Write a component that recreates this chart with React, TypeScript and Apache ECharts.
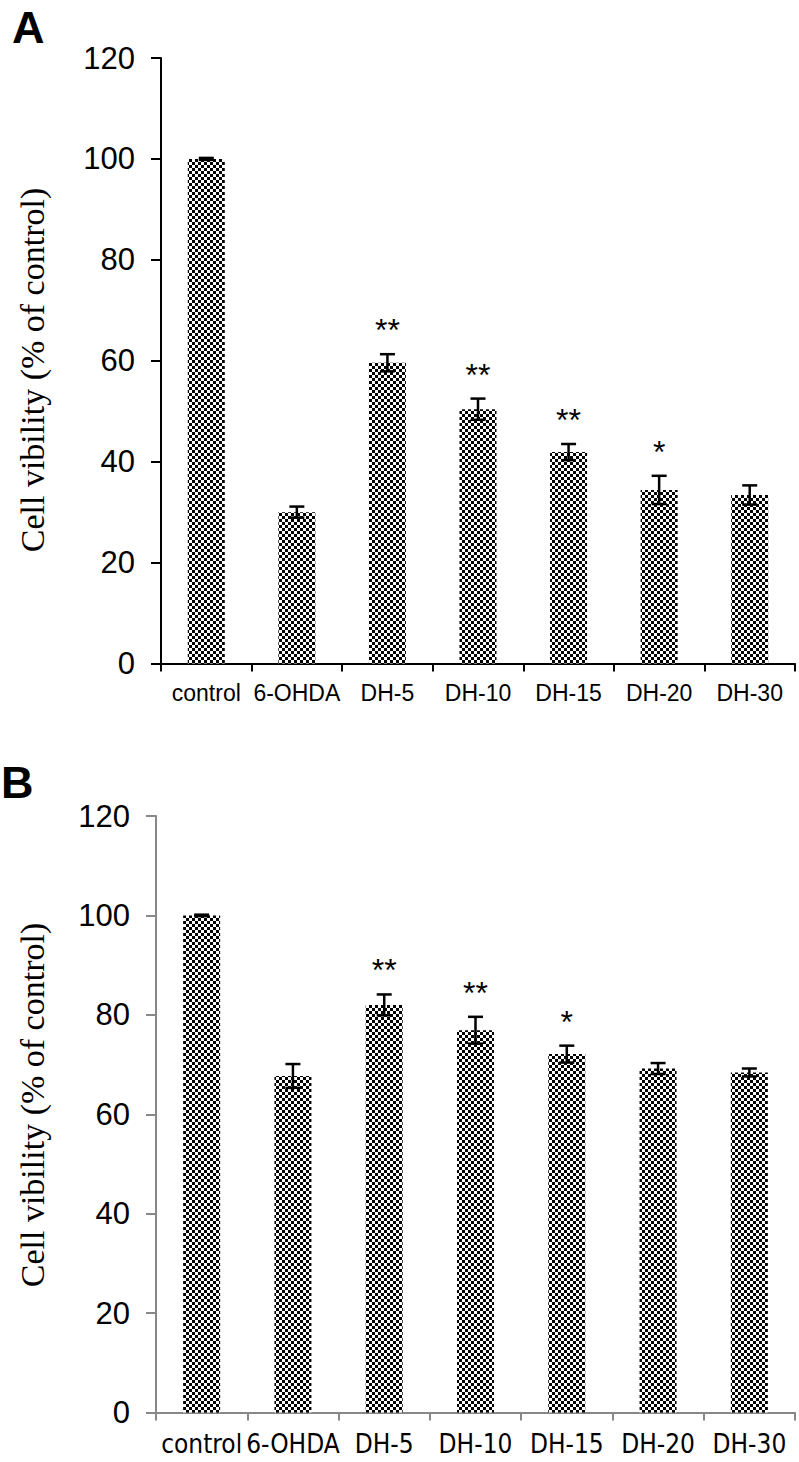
import React, { useEffect, useRef } from "react";
import * as echarts from "echarts";

const categories = ["control", "6-OHDA", "DH-5", "DH-10", "DH-15", "DH-20", "DH-30"];
const yTickMin = 0;
const yTickMax = 120;
const yTickStep = 20;

const valuesA = [100, 30.0, 59.6, 50.4, 41.9, 34.4, 33.4];
const errorsA = [0.2, 1.1, 1.7, 2.1, 1.6, 2.8, 1.9];
const starsA = ["", "", "**", "**", "**", "*", ""];

const valuesB = [100, 67.7, 82.0, 76.9, 72.1, 69.2, 68.4];
const errorsB = [0.15, 2.4, 2.1, 2.7, 1.7, 1.1, 0.8];
const starsB = ["", "", "**", "**", "*", "", ""];

const yTitle = "Cell vibility (% of control)";

function makePattern(): any {
  const c = document.createElement("canvas");
  c.width = 6;
  c.height = 6;
  const ctx = c.getContext("2d")!;
  ctx.fillStyle = "#ffffff";
  ctx.fillRect(0, 0, 6, 6);
  ctx.fillStyle = "#000000";
  ctx.fillRect(0, 0, 3, 3);
  ctx.fillRect(3, 3, 3, 3);
  return { image: c.toDataURL(), repeat: "repeat", imageWidth: 6, imageHeight: 6 };
}

function errSeries(idx: number, values: number[], errors: number[], stars: string[]) {
  return {
    type: "custom",
    xAxisIndex: idx,
    yAxisIndex: idx,
    z: 5,
    silent: true,
    data: values.map((v, i) => [i, v, errors[i]]),
    encode: { x: 0, y: 1 },
    renderItem: (params: any, api: any) => {
      const x = api.value(0);
      const v = api.value(1);
      const e = api.value(2);
      const top = api.coord([x, v + e]);
      const bot = api.coord([x, v - e]);
      const half = 7.5;
      const st = { stroke: "#000", lineWidth: 2.5 };
      const children: any[] = [
        { type: "line", shape: { x1: top[0], y1: top[1], x2: bot[0], y2: bot[1] }, style: st },
        { type: "line", shape: { x1: top[0] - half, y1: top[1], x2: top[0] + half, y2: top[1] }, style: st },
        { type: "line", shape: { x1: bot[0] - half, y1: bot[1], x2: bot[0] + half, y2: bot[1] }, style: st },
      ];
      const s = stars[params.dataIndex];
      if (s) {
        children.push({
          type: "text",
          x: top[0],
          y: top[1] - 24,
          style: {
            text: s,
            textAlign: "center",
            textVerticalAlign: "middle",
            font: '32px "Liberation Sans", Arial, sans-serif',
            fill: "#000",
          },
        });
      }
      return { type: "group", children };
    },
  };
}

export default function App() {
  const ref = useRef<HTMLDivElement>(null);
  useEffect(() => {
    if (!ref.current) return;
    const chart = echarts.init(ref.current, null, { renderer: "svg" });
    const pattern = makePattern();
    const axisA = "#000";
    const axisB = "#888";
    const mkX = (idx: number, color: string, font: string, size: number) => ({
      type: "category",
      gridIndex: idx,
      data: categories,
      boundaryGap: true,
      axisLine: { show: true, lineStyle: { color, width: 2 } },
      axisTick: { show: true, length: 8, lineStyle: { color, width: 2 } },
      axisLabel: { color: "#000", fontSize: size, fontFamily: font, margin: 18, interval: 0 },
      splitLine: { show: false },
    });
    const mkY = (idx: number, color: string) => ({
      type: "value",
      gridIndex: idx,
      min: yTickMin,
      max: yTickMax,
      interval: yTickStep,
      axisLine: { show: true, lineStyle: { color, width: 2 } },
      axisTick: { show: true, length: 10, lineStyle: { color, width: 2 } },
      axisLabel: { color: "#000", fontSize: 31, fontFamily: '"Liberation Sans", Arial, sans-serif', margin: 26 },
      splitLine: { show: false },
    });
    chart.setOption({
      animation: false,
      backgroundColor: "#fff",
      grid: [
        { left: 161, top: 58, width: 634, height: 605.5 },
        { left: 156, top: 816, width: 639, height: 596.5 },
      ],
      xAxis: [
        mkX(0, axisA, '"Liberation Sans", Arial, sans-serif', 23),
        mkX(1, axisB, '"Liberation Sans Narrow", "Arial Narrow", "DejaVu Sans Condensed", sans-serif', 26),
      ],
      yAxis: [mkY(0, axisA), mkY(1, axisB)],
      series: [
        {
          type: "bar",
          xAxisIndex: 0,
          yAxisIndex: 0,
          data: valuesA,
          barWidth: 37,
          itemStyle: { color: pattern },
        },
        {
          type: "bar",
          xAxisIndex: 1,
          yAxisIndex: 1,
          data: valuesB,
          barWidth: 37,
          itemStyle: { color: pattern },
        },
        errSeries(0, valuesA, errorsA, starsA),
        errSeries(1, valuesB, errorsB, starsB),
      ],
      graphic: [
        {
          type: "text",
          left: 12,
          top: 5,
          style: { text: "A", font: 'bold 45px "Liberation Sans", Arial, sans-serif', fill: "#000" },
        },
        {
          type: "text",
          left: 1,
          top: 760,
          style: { text: "B", font: 'bold 45px "Liberation Sans", Arial, sans-serif', fill: "#000" },
        },
        {
          type: "text",
          x: 32,
          y: 370,
          rotation: Math.PI / 2,
          style: {
            text: yTitle,
            font: '34px "Liberation Serif", "Times New Roman", serif',
            fill: "#000",
            textAlign: "center",
            textVerticalAlign: "middle",
          },
        },
        {
          type: "text",
          x: 32,
          y: 1105,
          rotation: Math.PI / 2,
          style: {
            text: yTitle,
            font: '34px "Liberation Serif", "Times New Roman", serif',
            fill: "#000",
            textAlign: "center",
            textVerticalAlign: "middle",
          },
        },
      ],
    });
    return () => chart.dispose();
  }, []);
  return (
    <div
      ref={ref}
      style={{ position: "absolute", left: 0, top: 0, width: 799, height: 1462, background: "#fff" }}
    />
  );
}
